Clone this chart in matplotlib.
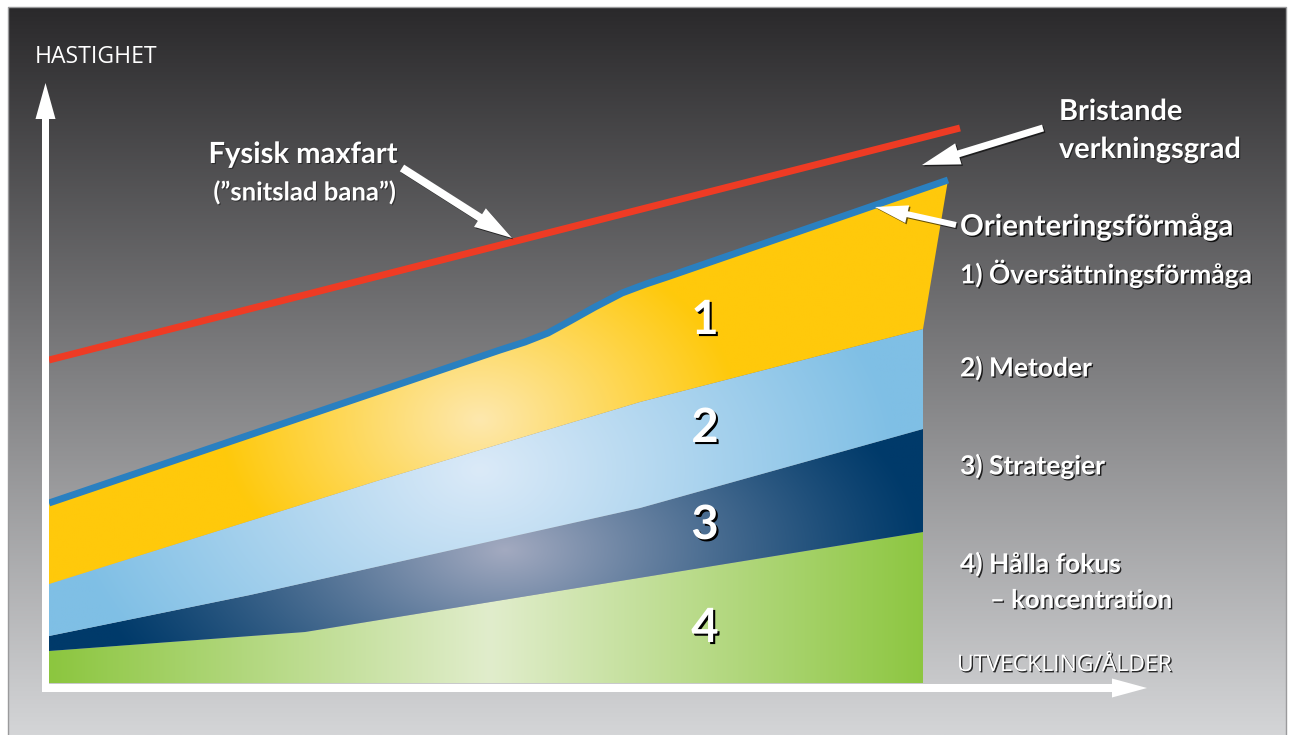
import numpy as np
import matplotlib.pyplot as plt
import matplotlib.patheffects as pe
from matplotlib.patches import Polygon, FancyArrow
from matplotlib.colors import to_rgb

W, H = 1291, 735

# layer boundaries (x right, y down, image pixels)
green_top_x = [49, 305, 923]
green_top_y = [651, 632, 532]
navy_top_x = [49, 250, 640, 923]
navy_top_y = [636, 595, 508, 429]
lblue_top_x = [49, 380, 640, 923]
lblue_top_y = [584, 480, 402, 329]
orient_x = [49, 500, 525, 548, 570, 595, 622, 646, 667, 948]
orient_y = [503, 350, 342, 333, 321, 307, 293, 284, 277, 180]
maxfart_x = [49, 960]
maxfart_y = [360, 128]
base_y = 683
x_end = 923

layer_numbers = ['1', '2', '3', '4']
number_y = [320, 428, 525, 628]

side_labels = ['1) Översättningsförmåga', '2) Metoder', '3) Strategier', '4) Hålla fokus']
side_y = [273, 368, 466, 564]

BOLD = 'Lato'
REG = 'Open Sans'


def shadow(dx=1.2, alpha=0.85):
    return [pe.withSimplePatchShadow(offset=(dx, -dx), shadow_rgbFace='black', alpha=alpha)]


def grad_fill(ax, xy, colfunc, z):
    xy = np.asarray(xy, dtype=float)
    x0, x1 = xy[:, 0].min(), xy[:, 0].max()
    y0, y1 = xy[:, 1].min(), xy[:, 1].max()
    X, Y = np.meshgrid(np.linspace(x0, x1, 400), np.linspace(y0, y1, 300))
    img = colfunc(X, Y)
    im = ax.imshow(img, extent=(x0, x1, y1, y0), origin='upper', zorder=z,
                   interpolation='bilinear', aspect='auto')
    patch = Polygon(xy, closed=True, fc='none', ec='none', zorder=z)
    ax.add_patch(patch)
    im.set_clip_path(patch)


def radial(cx, cy, rx, ry, base, light, power=1.0):
    b = np.array(to_rgb(base))
    l = np.array(to_rgb(light))

    def f(X, Y):
        d = np.sqrt(((X - cx) / rx) ** 2 + ((Y - cy) / ry) ** 2)
        t = np.clip(1 - d, 0, 1) ** power
        return b + (l - b) * t[..., None]
    return f


def horiz(cx, r, base, light):
    b = np.array(to_rgb(base))
    l = np.array(to_rgb(light))

    def f(X, Y):
        t = np.clip(1 - np.abs(X - cx) / r, 0, 1)
        return b + (l - b) * t[..., None]
    return f


fig = plt.figure(figsize=(W / 100, H / 100), dpi=100)
ax = fig.add_axes([0, 0, 1, 1])
ax.set_xlim(0, W)
ax.set_ylim(H, 0)
ax.axis('off')

# background panel
top = np.array(to_rgb('#2a292b'))
bot = np.array(to_rgb('#d4d5d7'))
t = np.linspace(0, 1, 300)[:, None, None]
bg = top + (bot - top) * t
bg = np.repeat(bg, 2, axis=1)
ax.imshow(bg, extent=(8, 1286, H, 7), origin='upper', aspect='auto', zorder=0)
ax.plot([8, 8, 1286, 1286], [H, 7, 7, H], color='#9a9a9c', lw=1, zorder=1)

# layer 4 (green)
poly4 = list(zip(green_top_x, green_top_y)) + [(x_end, base_y), (49, base_y)]
grad_fill(ax, poly4, horiz(490, 440, '#8cc63f', '#e1edcc'), 2)

# layer 3 (navy)
poly3 = list(zip(navy_top_x, navy_top_y)) + list(zip(green_top_x[::-1], green_top_y[::-1]))
grad_fill(ax, poly3, radial(505, 550, 420, 230, '#003a6a', '#a3aac0', 1.15), 2)

# layer 2 (light blue)
poly2 = list(zip(lblue_top_x, lblue_top_y)) + list(zip(navy_top_x[::-1], navy_top_y[::-1]))
grad_fill(ax, poly2, radial(480, 470, 420, 300, '#7fbfe5', '#dbeaf8', 1.0), 2)

# layer 1 (yellow)
poly1 = list(zip(orient_x, orient_y)) + list(zip(lblue_top_x[::-1], lblue_top_y[::-1]))
grad_fill(ax, poly1, radial(480, 420, 260, 190, '#ffc90b', '#fde8ae', 1.0), 2)

# orienteering line and physical max line
ax.plot(orient_x, orient_y, color='#2a80c0', lw=5, solid_capstyle='butt',
        solid_joinstyle='round', zorder=3)
ax.plot(maxfart_x, maxfart_y, color='#ee3b24', lw=5, solid_capstyle='butt', zorder=3)


def arrow(x0, y0, x1, y1, w, hw, hl, sh=True):
    a = FancyArrow(x0, y0, x1 - x0, y1 - y0, width=w, head_width=hw, head_length=hl,
                   length_includes_head=True, fc='white', ec='none', zorder=5)
    if sh:
        a.set_path_effects(shadow(1.0, 0.6))
    ax.add_patch(a)


# axes arrows
arrow(45.5, 692, 45.5, 83, 7, 20, 36, sh=False)
arrow(42, 688, 1147, 688, 8, 19, 35, sh=False)

# annotation arrows
arrow(402, 168, 512, 238, 8, 22, 38)
arrow(1043, 128, 922, 165, 7, 22, 38)
arrow(956, 225, 875, 207, 6, 18, 33)

# layer numbers
for s, y in zip(layer_numbers, number_y):
    ax.text(705, y, s, fontsize=34, fontweight='bold', family=BOLD, color='white',
            ha='center', va='center', zorder=6, path_effects=shadow(1.5, 1.0))

# axis titles
ax.text(35, 57, 'HASTIGHET', fontsize=16.6, family=REG, color='white', ha='left', va='center', zorder=6)
ax.text(957, 665, 'UTVECKLING/ÅLDER', fontsize=16.5, family=REG, color='white', ha='left',
        va='center', zorder=6, path_effects=shadow(1.0, 0.8))

# annotation texts
ax.text(303, 155, 'Fysisk maxfart', fontsize=21, fontweight='bold', family=BOLD, color='white',
        ha='center', va='center', zorder=6, path_effects=shadow(0.8, 0.4))
ax.text(305, 192, '(”snitslad bana”)', fontsize=18.5, fontweight='bold', family=BOLD, color='white',
        ha='center', va='center', zorder=6, path_effects=shadow(0.8, 0.4))
ax.text(1059, 112, 'Bristande', fontsize=20.8, fontweight='bold', family=BOLD, color='white',
        ha='left', va='center', zorder=6, path_effects=shadow(0.8, 0.5))
ax.text(1059, 150, 'verkningsgrad', fontsize=20.8, fontweight='bold', family=BOLD, color='white',
        ha='left', va='center', zorder=6, path_effects=shadow(0.8, 0.5))
ax.text(960, 227, 'Orienteringsförmåga', fontsize=21.2, fontweight='bold', family=BOLD, color='white',
        ha='left', va='center', zorder=6, path_effects=shadow(1.0, 0.8))

for s, y in zip(side_labels, side_y):
    ax.text(960, y, s, fontsize=19, fontweight='bold', family=BOLD, color='white',
            ha='left', va='center', zorder=6, path_effects=shadow(1.0, 0.8))
ax.text(990, 600, '– koncentration', fontsize=18.5, fontweight='bold', family=BOLD, color='white',
        ha='left', va='center', zorder=6, path_effects=shadow(1.0, 0.8))

fig.savefig('out.png', dpi=100)
